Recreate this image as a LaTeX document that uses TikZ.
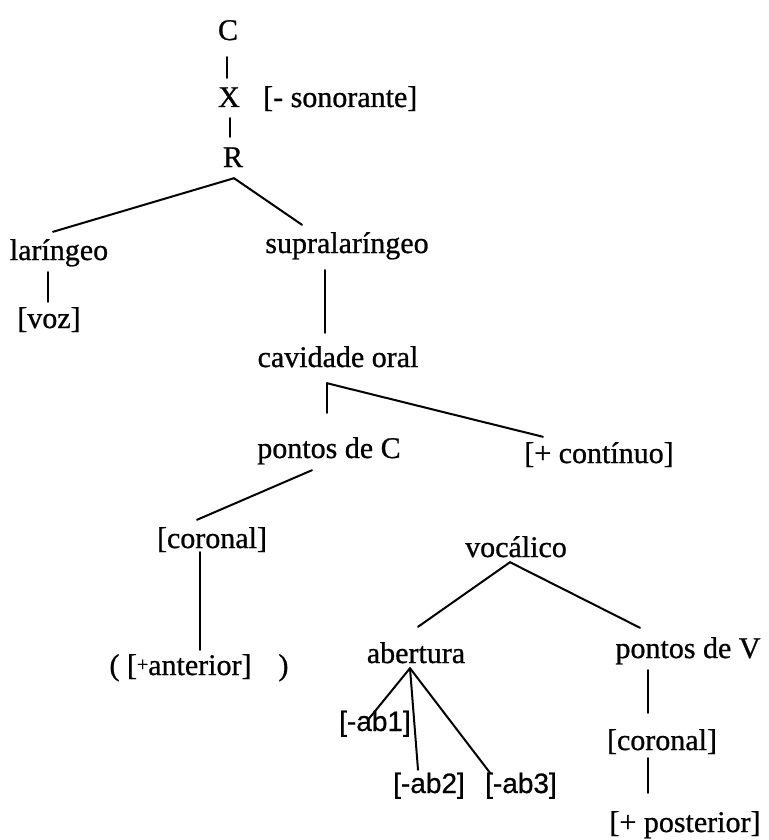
\documentclass[tikz,border=0pt]{standalone}
\usepackage{fontspec}
\setmainfont[FakeBold=0.6,BoldFont={Liberation Serif}]{Liberation Serif}
\newfontfamily\labserif[FakeBold=0.8]{Liberation Serif}
\newfontfamily\labsans[FakeBold=0.6]{Liberation Sans}
\begin{document}
\begin{tikzpicture}[x=1pt,y=-1pt,
  lab/.style={anchor=base,inner sep=0pt,text height=20pt,text depth=6pt,
              font=\fontsize{30}{34}\selectfont\labserif},
  sanslab/.style={lab,font=\fontsize{28}{32}\selectfont\labsans},
  branch/.style={line width=2pt,line cap=round}]
\useasboundingbox (0,0) rectangle (768,840);

% feature tree nodes
\node[lab] (C)    at (228,40)  {C};
\node[lab] (X)    at (229,107) {X};
\node[lab,anchor=base west] (son) at (263,107) {[- sonorante]};
\node[lab] (R)    at (233,167) {R};
\node[lab] (lar)  at (59,260)  {laríngeo};
\node[lab] (sup)  at (347,253) {supralaríngeo};
\node[lab] (voz)  at (49,328)  {[voz]};
\node[lab] (cav)  at (338,367) {cavidade oral};
\node[lab] (pC)   at (329,458) {pontos de C};
\node[lab] (cont) at (599,463) {[+ contínuo]};
\node[lab] (corL) at (212,548) {[coronal]};
\node[lab] (ant)  at (199,675) {(\ [\raisebox{4pt}{\fontsize{20}{24}\selectfont+}anterior]\hspace{0.9em})};
\node[lab] (voc)  at (516,557) {vocálico};
\node[lab] (ab)   at (416,663) {abertura};
\node[lab] (pV)   at (688,658) {pontos de V};
\node[sanslab] (ab1) at (375,731) {[-ab1]};
\node[sanslab] (ab2) at (429,793) {[-ab2]};
\node[sanslab] (ab3) at (521,793) {[-ab3]};
\node[lab] (corR) at (662,750) {[coronal]};
\node[lab] (post) at (685,832) {[+ posterior]};

% branching points
\coordinate (Rfork)   at ([xshift=1pt,yshift=-5pt]R.south);
\coordinate (cavfork) at ([xshift=-11pt,yshift=-10pt]cav.south);
\coordinate (vocfork) at ([xshift=-6pt,yshift=1pt]voc.south);
\coordinate (abfork)  at ([xshift=-6pt,yshift=1pt]ab.south);

% connectors
\draw[branch] ([xshift=-1pt,yshift=-11pt]C.south) -- ([xshift=-2pt,yshift=9pt]X.north);
\draw[branch] ([xshift=1pt,yshift=-5pt]X.south) -- ([xshift=-3pt,yshift=10pt]R.north);
\draw[branch] (Rfork) -- ([xshift=-6pt,yshift=8pt]lar.north);
\draw[branch] (Rfork) -- ([xshift=-45pt,yshift=8pt]sup.north);
\draw[branch] ([xshift=-11pt,yshift=-6pt]lar.south) -- ([xshift=-1pt,yshift=6pt]voz.north);
\draw[branch] ([xshift=-22pt,yshift=-11pt]sup.south) -- ([xshift=-13pt,yshift=14pt]cav.north);
\draw[branch] (cavfork) -- ([xshift=-2pt,yshift=25pt]pC.north);
\draw[branch] (cavfork) -- ([xshift=-56pt,yshift=6pt]cont.north);
\draw[branch] ([xshift=-17pt,yshift=-6pt]pC.south) -- ([xshift=-15pt,yshift=8pt]corL.north);
\draw[branch] ([xshift=-12pt,yshift=2pt]corL.south) -- ([xshift=1pt,yshift=5pt]ant.north);
\draw[branch] (vocfork) -- ([xshift=2pt,yshift=16pt]ab.north);
\draw[branch] (vocfork) -- ([xshift=-48pt,yshift=10pt]pV.north);
\draw[branch] (abfork) -- ([xshift=-7pt,yshift=-9pt]ab1.north);
\draw[branch] (abfork) -- ([xshift=-11pt,yshift=3pt]ab2.north);
\draw[branch] (abfork) -- ([xshift=-31pt,yshift=0pt]ab3.north);
\draw[branch] ([xshift=-40pt,yshift=-6pt]pV.south) -- ([xshift=-14pt,yshift=17pt]corR.north);
\draw[branch] ([xshift=-14pt,yshift=-2pt]corR.south) -- ([xshift=-37pt,yshift=19pt]post.north);
\end{tikzpicture}
\end{document}
